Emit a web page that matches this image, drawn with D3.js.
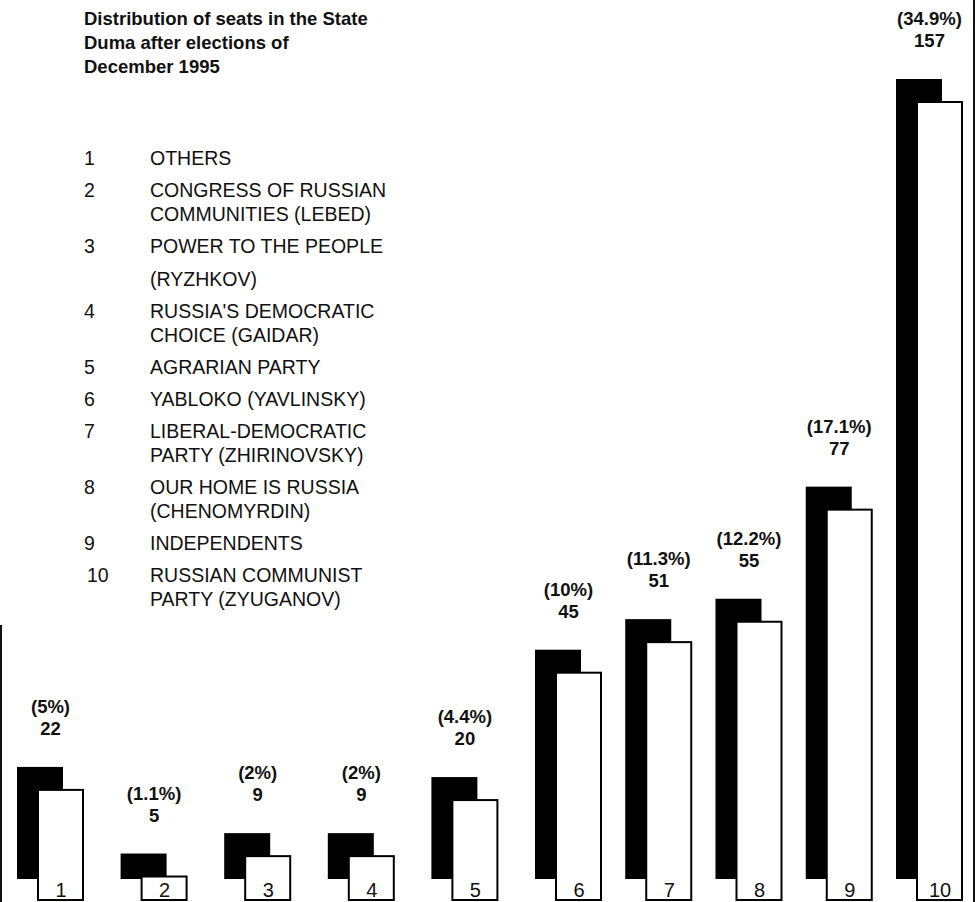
<!DOCTYPE html>
<html>
<head>
<meta charset="utf-8">
<script src="https://cdn.jsdelivr.net/npm/d3@7"></script>
<style>
  body { margin: 0; background: #fff; }
  text { font-family: "Liberation Sans", Arial, sans-serif; fill: #111; }
</style>
</head>
<body>
<div id="chart"></div>
<script>
// party numbers, seats and share of seats
var ids = [1, 2, 3, 4, 5, 6, 7, 8, 9, 10];
var seats = [22, 5, 9, 9, 20, 45, 51, 55, 77, 157];
var shares = ["5%", "1.1%", "2%", "2%", "4.4%", "10%", "11.3%", "12.2%", "17.1%", "34.9%"];
var parties = [
    ["OTHERS"],
    ["CONGRESS OF RUSSIAN", "COMMUNITIES (LEBED)"],
    ["POWER TO THE PEOPLE", "(RYZHKOV)"],
    ["RUSSIA'S DEMOCRATIC", "CHOICE (GAIDAR)"],
    ["AGRARIAN PARTY"],
    ["YABLOKO (YAVLINSKY)"],
    ["LIBERAL-DEMOCRATIC", "PARTY (ZHIRINOVSKY)"],
    ["OUR HOME IS RUSSIA", "(CHENOMYRDIN)"],
    ["INDEPENDENTS"],
    ["RUSSIAN COMMUNIST", "PARTY (ZYUGANOV)"]
];
var titleLines = ["Distribution of seats in the State", "Duma after elections of", "December 1995"];

function drawChart(){

    var width = 978;
    var height = 902;
    var barW = 46;
    var dx = 21, dy = 23;

    // bars are spread a little wider on the left half of the page
    var xScale = d3.scaleLinear()
    .domain([1, 6, 10])
    .range([17, 535, 896]);

    var yScale = d3.scaleLinear()
    .domain([0, 157])
    .range([879, 79]);

    var svg = d3.select("#chart").append("svg")
    .attr("width", width)
    .attr("height", height);

    // page edges
    svg.append("line")
    .attr("x1", 974).attr("x2", 974).attr("y1", 0).attr("y2", height)
    .attr("stroke", "#111").attr("stroke-width", 2);
    svg.append("line")
    .attr("x1", 1).attr("x2", 1).attr("y1", 625).attr("y2", height)
    .attr("stroke", "#111").attr("stroke-width", 2);

    // title
    svg.append("g").selectAll("text")
    .data(titleLines)
    .enter().append("text")
    .attr("x", 84)
    .attr("y", function(d, i){ return 25 + i * 24; })
    .style("font-size", "18.5px")
    .style("font-weight", "bold")
    .text(function(d){ return d; });

    // legend
    var legend = svg.append("g");
    var y = 165;
    parties.forEach(function(lines, i){
        if (i > 0) y += 32;
        legend.append("text")
        .attr("x", ids[i] < 10 ? 84 : 87)
        .attr("y", y)
        .style("font-size", "19.5px")
        .text(ids[i]);
        lines.forEach(function(line, j){
            if (j > 0) y += (i == 2 ? 33 : 24);
            legend.append("text")
            .attr("x", 150)
            .attr("y", y)
            .style("font-size", "19.5px")
            .text(line);
        });
    });

    var data = ids.map(function(id, i){
        return {id: id, seats: seats[i], share: shares[i]};
    });

    var bars = svg.append("g").selectAll("g")
    .data(data)
    .enter().append("g");

    // black shadow bar
    bars.append("rect")
    .attr("x", function(d){ return xScale(d.id); })
    .attr("y", function(d){ return yScale(d.seats); })
    .attr("width", barW)
    .attr("height", function(d){ return yScale(0) - yScale(d.seats); })
    .attr("fill", "#000");

    // white front bar
    bars.append("rect")
    .attr("x", function(d){ return xScale(d.id) + dx; })
    .attr("y", function(d){ return yScale(d.seats) + dy; })
    .attr("width", barW - 1)
    .attr("height", function(d){ return yScale(0) - yScale(d.seats) - 2; })
    .attr("fill", "#fff")
    .attr("stroke", "#000")
    .attr("stroke-width", 2);

    // number in the bar foot
    bars.append("text")
    .attr("x", function(d){ return xScale(d.id) + dx + barW / 2; })
    .attr("y", yScale(0) + 18)
    .style("text-anchor", "middle")
    .style("font-size", "20px")
    .text(function(d){ return d.id; });

    // share and seats above bar
    bars.append("text")
    .attr("x", function(d){ return xScale(d.id) + (barW + dx) / 2; })
    .attr("y", function(d){ return yScale(d.seats) - 54; })
    .style("text-anchor", "middle")
    .style("font-size", "18.5px")
    .style("font-weight", "bold")
    .text(function(d){ return "(" + d.share + ")"; });

    bars.append("text")
    .attr("x", function(d){ return xScale(d.id) + (barW + dx) / 2; })
    .attr("y", function(d){ return yScale(d.seats) - 32; })
    .style("text-anchor", "middle")
    .style("font-size", "18.5px")
    .style("font-weight", "bold")
    .text(function(d){ return d.seats; });
}

drawChart();
</script>
</body>
</html>
